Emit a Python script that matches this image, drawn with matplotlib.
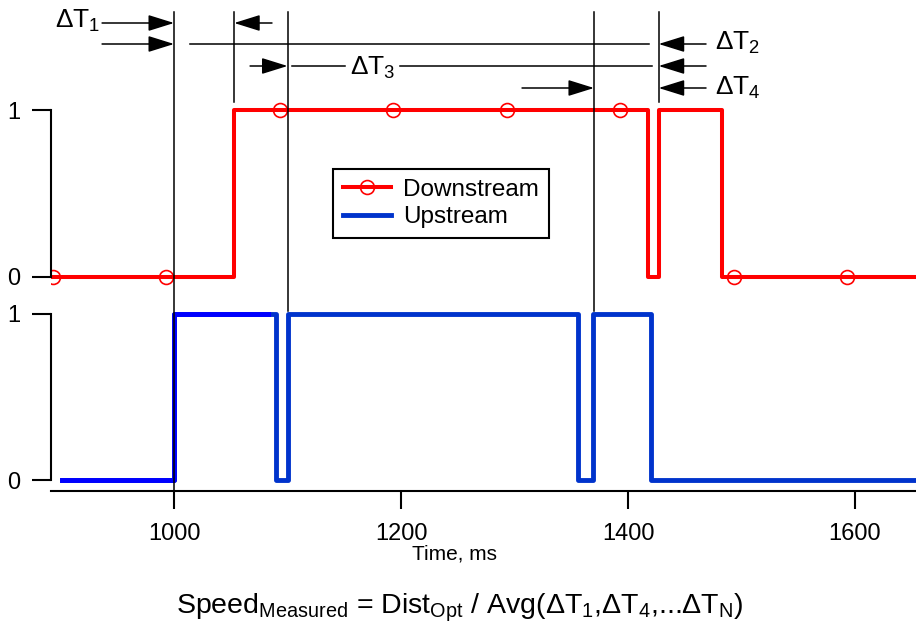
import matplotlib
matplotlib.use("Agg")
import matplotlib.pyplot as plt
import matplotlib.transforms as mtransforms
from matplotlib.lines import Line2D
from matplotlib.patches import Rectangle

plt.rcParams['font.family'] = ['Liberation Sans', 'DejaVu Sans']
plt.rcParams['mathtext.fontset'] = 'custom'
plt.rcParams['mathtext.rm'] = 'Liberation Sans'
plt.rcParams['mathtext.it'] = 'Liberation Sans'
plt.rcParams['mathtext.bf'] = 'Liberation Sans:bold'

# ---------------- data ----------------
down_t = [892, 1053, 1418, 1427, 1483, 1654]
down_v = [0, 1, 0, 1, 0, 0]
down_marker_t = [893, 993, 1093, 1193, 1293, 1393, 1493, 1593]
down_marker_v = [0, 0, 1, 1, 1, 1, 0, 0]
up_t = [901, 1000, 1090, 1100, 1356, 1369, 1420, 1654]
up_v = [0, 1, 0, 1, 0, 1, 0, 0]
x_ticks = [1000, 1200, 1400, 1600]
y_ticks = [0, 1]
x_range = (891.6, 1653.7)

# event markers (ms) used for the timing annotations
t1, t2, t3, t4, t5 = 1000, 1053, 1100, 1370, 1427

W, H = 916, 629
fig = plt.figure(figsize=(W / 100, H / 100), dpi=100)


def fy(py):
    return 1 - py / H


ax_top = fig.add_axes([51 / W, fy(287), 865 / W, 187 / H])
ax_bot = fig.add_axes([51 / W, fy(491), 865 / W, 187 / H])

red = '#ff0000'
blue_dark = '#0033cc'
blue = '#0000ff'

ax_top.plot(down_t, down_v, drawstyle='steps-post', color=red, lw=2.9)
ax_top.plot(down_marker_t, down_marker_v, ls='none', marker='o', ms=10,
            mfc='none', mec=red, mew=1.2)

ax_bot.plot(up_t, up_v, drawstyle='steps-post', color=blue_dark, lw=3.5)
l2, = ax_bot.plot(up_t, up_v, drawstyle='steps-post', color=blue, lw=3.5)
clip = Rectangle((x_range[0], -1), 1085 - x_range[0], 3, transform=ax_bot.transData)
l2.set_clip_path(clip)

for ax in (ax_top, ax_bot):
    ax.set_xlim(*x_range)
    ax.set_ylim(-0.06, 1.06)
    ax.spines['top'].set_visible(False)
    ax.spines['right'].set_visible(False)
    ax.spines['left'].set_bounds(0, 1)
    ax.spines['left'].set_linewidth(1.5)
    ax.set_yticks(y_ticks)
    ax.set_yticklabels([str(v) for v in y_ticks])
    ax.tick_params(axis='y', length=14, width=1.5, pad=8, labelsize=17)
    ax.patch.set_alpha(0)

ax_bot.set_ylim(-0.066, 1.06)
ax_top.spines['bottom'].set_visible(False)
ax_top.tick_params(axis='x', bottom=False, labelbottom=False)
ax_bot.spines['bottom'].set_linewidth(1.5)
ax_bot.set_xticks(x_ticks)
ax_bot.set_xticklabels([str(v) for v in x_ticks])
ax_bot.tick_params(axis='x', length=13, width=1.5, pad=10, labelsize=17)

# legend
handles = [Line2D([], [], color=red, lw=2.9, marker='o', ms=10, mfc='none', mec=red, mew=1.2),
           Line2D([], [], color=blue_dark, lw=3.5)]
leg = ax_top.legend(handles, ['Downstream', 'Upstream'], loc='upper left',
                    bbox_to_anchor=(333 / W, fy(169)), bbox_transform=fig.transFigure,
                    fancybox=False, edgecolor='black', framealpha=1, fontsize=17.5,
                    borderpad=0.4, handlelength=2.0, handletextpad=0.5,
                    labelspacing=0.22, borderaxespad=0)
leg.get_frame().set_linewidth(1.5)

# annotation layer: x in data, y in figure
tr = mtransforms.blended_transform_factory(ax_top.transData, fig.transFigure)

vlines = [(t1, 12, 491), (t2, 12, 102), (t3, 12, 311), (t4, 12, 311), (t5, 12, 102)]
for t, y0, y1 in vlines:
    fig.add_artist(Line2D([t, t], [fy(y0), fy(y1)], transform=tr, color='black', lw=1.1))

arrow_style = '-|>,head_length=0.8,head_width=0.25'
arrows = [
    (23, 936.6, t1), (23, 1086.3, t2),
    (44, 936.6, t1), (44, 1468.7, t5),
    (66, 1067, t3), (66, 1468.7, t5),
    (88, 1306.6, t4), (88, 1468.7, t5),
]
for py, xs, xe in arrows:
    fig.add_artist(matplotlib.text.Annotation(
        '', xy=(xe, fy(py)), xytext=(xs, fy(py)), xycoords=tr, textcoords=tr,
        arrowprops=dict(arrowstyle=arrow_style, mutation_scale=20, color='black',
                        lw=1.1, shrinkA=0, shrinkB=0)))

plain = [(44, 1014, 1418.5), (66, 1104, 1150.5), (66, 1199, 1421)]
for py, xs, xe in plain:
    fig.add_artist(Line2D([xs, xe], [fy(py), fy(py)], transform=tr, color='black', lw=1.1))

labels = [(895, 28, r'ΔT$_1$'), (1477, 50, r'ΔT$_2$'),
          (1155, 75, r'ΔT$_3$'), (1476.5, 95, r'ΔT$_4$')]
for x, py, s in labels:
    fig.text(x, fy(py), s, transform=tr, ha='left', va='baseline', fontsize=19)

fig.text(455 / W, fy(560), 'Time, ms', ha='center', va='baseline', fontsize=15)
fig.text(460 / W, fy(614),
         r'Speed$_{\mathrm{Measured}}$ = Dist$_{\mathrm{Opt}}$ / Avg(ΔT$_1$,ΔT$_4$,...ΔT$_{\mathrm{N}}$)',
         ha='center', va='baseline', fontsize=20.5)

fig.savefig('out.png', dpi=100)
